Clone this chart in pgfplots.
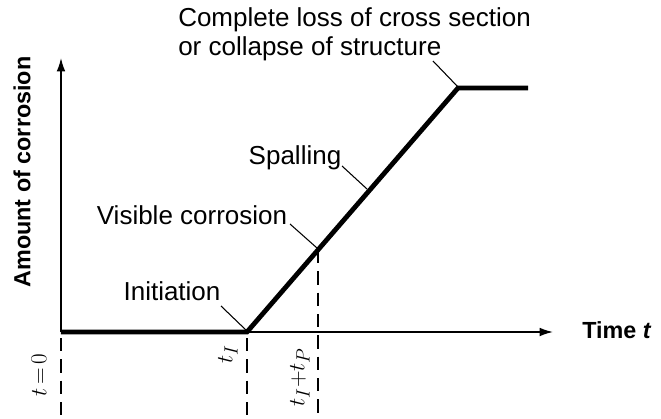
\documentclass[border=0pt]{standalone}
\usepackage{fontspec}
\setmainfont{Liberation Sans}
\usepackage{pgfplots}
\pgfplotsset{compat=1.18}
\usetikzlibrary{arrows.meta}
\begin{document}
\begin{tikzpicture}
\begin{axis}[
  x=0.75pt, y=0.75pt,
  xmin=61, xmax=553, ymin=86, ymax=360,
  axis lines=left,
  axis line style={line width=1.1pt, -{Latex[length=10pt,width=6.5pt]}},
  xtick=\empty, ytick=\empty,
  clip=false,
]
\path (axis cs:0,0) rectangle (axis cs:661,418);
% main curve
\addplot[black, line width=3.6pt, miter limit=4, line join=miter, line cap=butt] coordinates {(61,86) (247,86) (458,330) (528,330)};
% dashed markers
\addplot[black, line width=0.8pt, dash pattern=on 10pt off 6pt] coordinates {(61,80) (61,0)};
\addplot[black, line width=0.8pt, dash pattern=on 10pt off 6pt] coordinates {(247,80) (247,0)};
\addplot[black, line width=0.8pt, dash pattern=on 10pt off 6pt] coordinates {(318,168) (318,0)};
% annotations
\node[font=\fontsize{19.5}{22}\selectfont] at (axis cs:172,127) {Initiation};
\draw[line width=0.8pt] (axis cs:221,112) -- (axis cs:247,87);
\node[font=\fontsize{19.5}{22}\selectfont] at (axis cs:192,203) {Visible corrosion};
\draw[line width=0.8pt] (axis cs:290,194) -- (axis cs:317,170);
\node[font=\fontsize{19.5}{22}\selectfont] at (axis cs:295,260) {Spalling};
\draw[line width=0.8pt] (axis cs:342,252) -- (axis cs:367,229);
\node[font=\fontsize{19.5}{21.75}\selectfont, align=left, anchor=west, inner sep=0pt] at (axis cs:178,383.5) {Complete loss of cross section\\or collapse of structure};
\draw[line width=0.8pt] (axis cs:433,357) -- (axis cs:458,331);
% axis labels
\node[font=\fontsize{17.5}{20}\selectfont\bfseries, rotate=90] at (axis cs:22,246) {Amount of corrosion};
\node[font=\fontsize{17.5}{20}\selectfont\bfseries, anchor=west, inner sep=0pt] at (axis cs:582,88) {Time \textit{t}};
% time labels
\node[font=\fontsize{19}{22}\selectfont, rotate=90] at (axis cs:39,43) {$t\,{=}\,0$};
\node[font=\fontsize{19}{22}\selectfont, rotate=90] at (axis cs:228,64) {$t_I$};
\node[font=\fontsize{19}{22}\selectfont, rotate=90] at (axis cs:300,41) {$t_I{+}t_P$};
\end{axis}
\end{tikzpicture}
\end{document}
